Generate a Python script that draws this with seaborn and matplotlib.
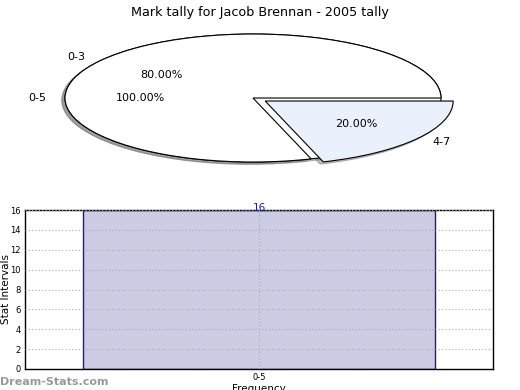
import numpy as np
import matplotlib
matplotlib.use("Agg")
import matplotlib.pyplot as plt
import seaborn as sns
import pandas as pd

sns.set_style("white", rc={"text.color": "black", "axes.labelcolor": "black",
                           "xtick.color": "black", "ytick.color": "black"})
plt.rcParams['font.family'] = ['DejaVu Sans']

# pie data
base_label = ["0-5"]
base_value = [16]
pie_labels = ["0-3", "4-7"]
pie_values = [80, 20]
pie_colors = ["#ffffff", "#eaf0fc"]
pie_explode = [0, 0.08]

# bar data
bar_cats = ["0-5"]
bar_vals = [16]

title = "Mark tally for Jacob Brennan - 2005 tally"

fig = plt.figure(figsize=(5.2, 3.9), dpi=100)

# top: squashed pie
ax1 = fig.add_axes([0, 0.5128, 1, 0.4256])
wp = dict(edgecolor="black", linewidth=0.8)
shd = dict(ox=-0.012, oy=-0.025, shade=0.5)
ax1.pie(base_value, labels=base_label, colors=["#ffffff"], autopct="%.2f%%",
        shadow=shd, startangle=0, wedgeprops=wp, textprops=dict(fontsize=8))
ax1.pie(pie_values, labels=pie_labels, colors=pie_colors, explode=pie_explode,
        autopct="%.2f%%", shadow=shd, startangle=0, wedgeprops=wp,
        textprops=dict(fontsize=8))
ax1.set_aspect("auto")
ax1.set_xlim(-253 / 188, 267 / 188)
ax1.set_ylim(-(190 - 98) / 64, (98 - 24) / 64)
ax1.axis("off")
ax1.set_title(title, fontsize=9.2, pad=6)

# bottom: bar chart
ax2 = fig.add_axes([25 / 520, (390 - 369) / 390, 468 / 520, 159 / 390])
df = pd.DataFrame({"cat": bar_cats, "val": bar_vals})
sns.barplot(data=df, x="cat", y="val", ax=ax2, color="#ccccE5",
            edgecolor="#1a1aa0", linewidth=1, width=0.75, saturation=1)
ax2.set_xlim(-0.5, 0.5)
ax2.set_ylim(0, 16)
ax2.set_yticks(np.arange(0, 17, 2))
ax2.grid(True, linestyle=(0, (1, 2)), color="#aaaaaa", linewidth=0.8)
ax2.set_axisbelow(False)
for s in ax2.spines.values():
    s.set_color("black")
    s.set_linewidth(1)
ax2.tick_params(axis="both", labelsize=6, length=2, pad=1)
ax2.set_xlabel("Frequency", fontsize=7.5, labelpad=1)
ax2.set_ylabel("Stat Intervals", fontsize=7.5)
ax2.yaxis.set_label_coords(-0.03, 0.5)
for i, v in enumerate(bar_vals):
    ax2.annotate(str(v), (i, v), xytext=(0, -2.5), textcoords="offset points",
                 ha="center", va="bottom", color="#1a1aa0", fontsize=7.5)

fig.text(0.0, 0.008, "Dream-Stats.com", color="#999999", fontsize=8,
         fontweight="semibold", ha="left", va="bottom")

fig.savefig("out.png", dpi=100)
